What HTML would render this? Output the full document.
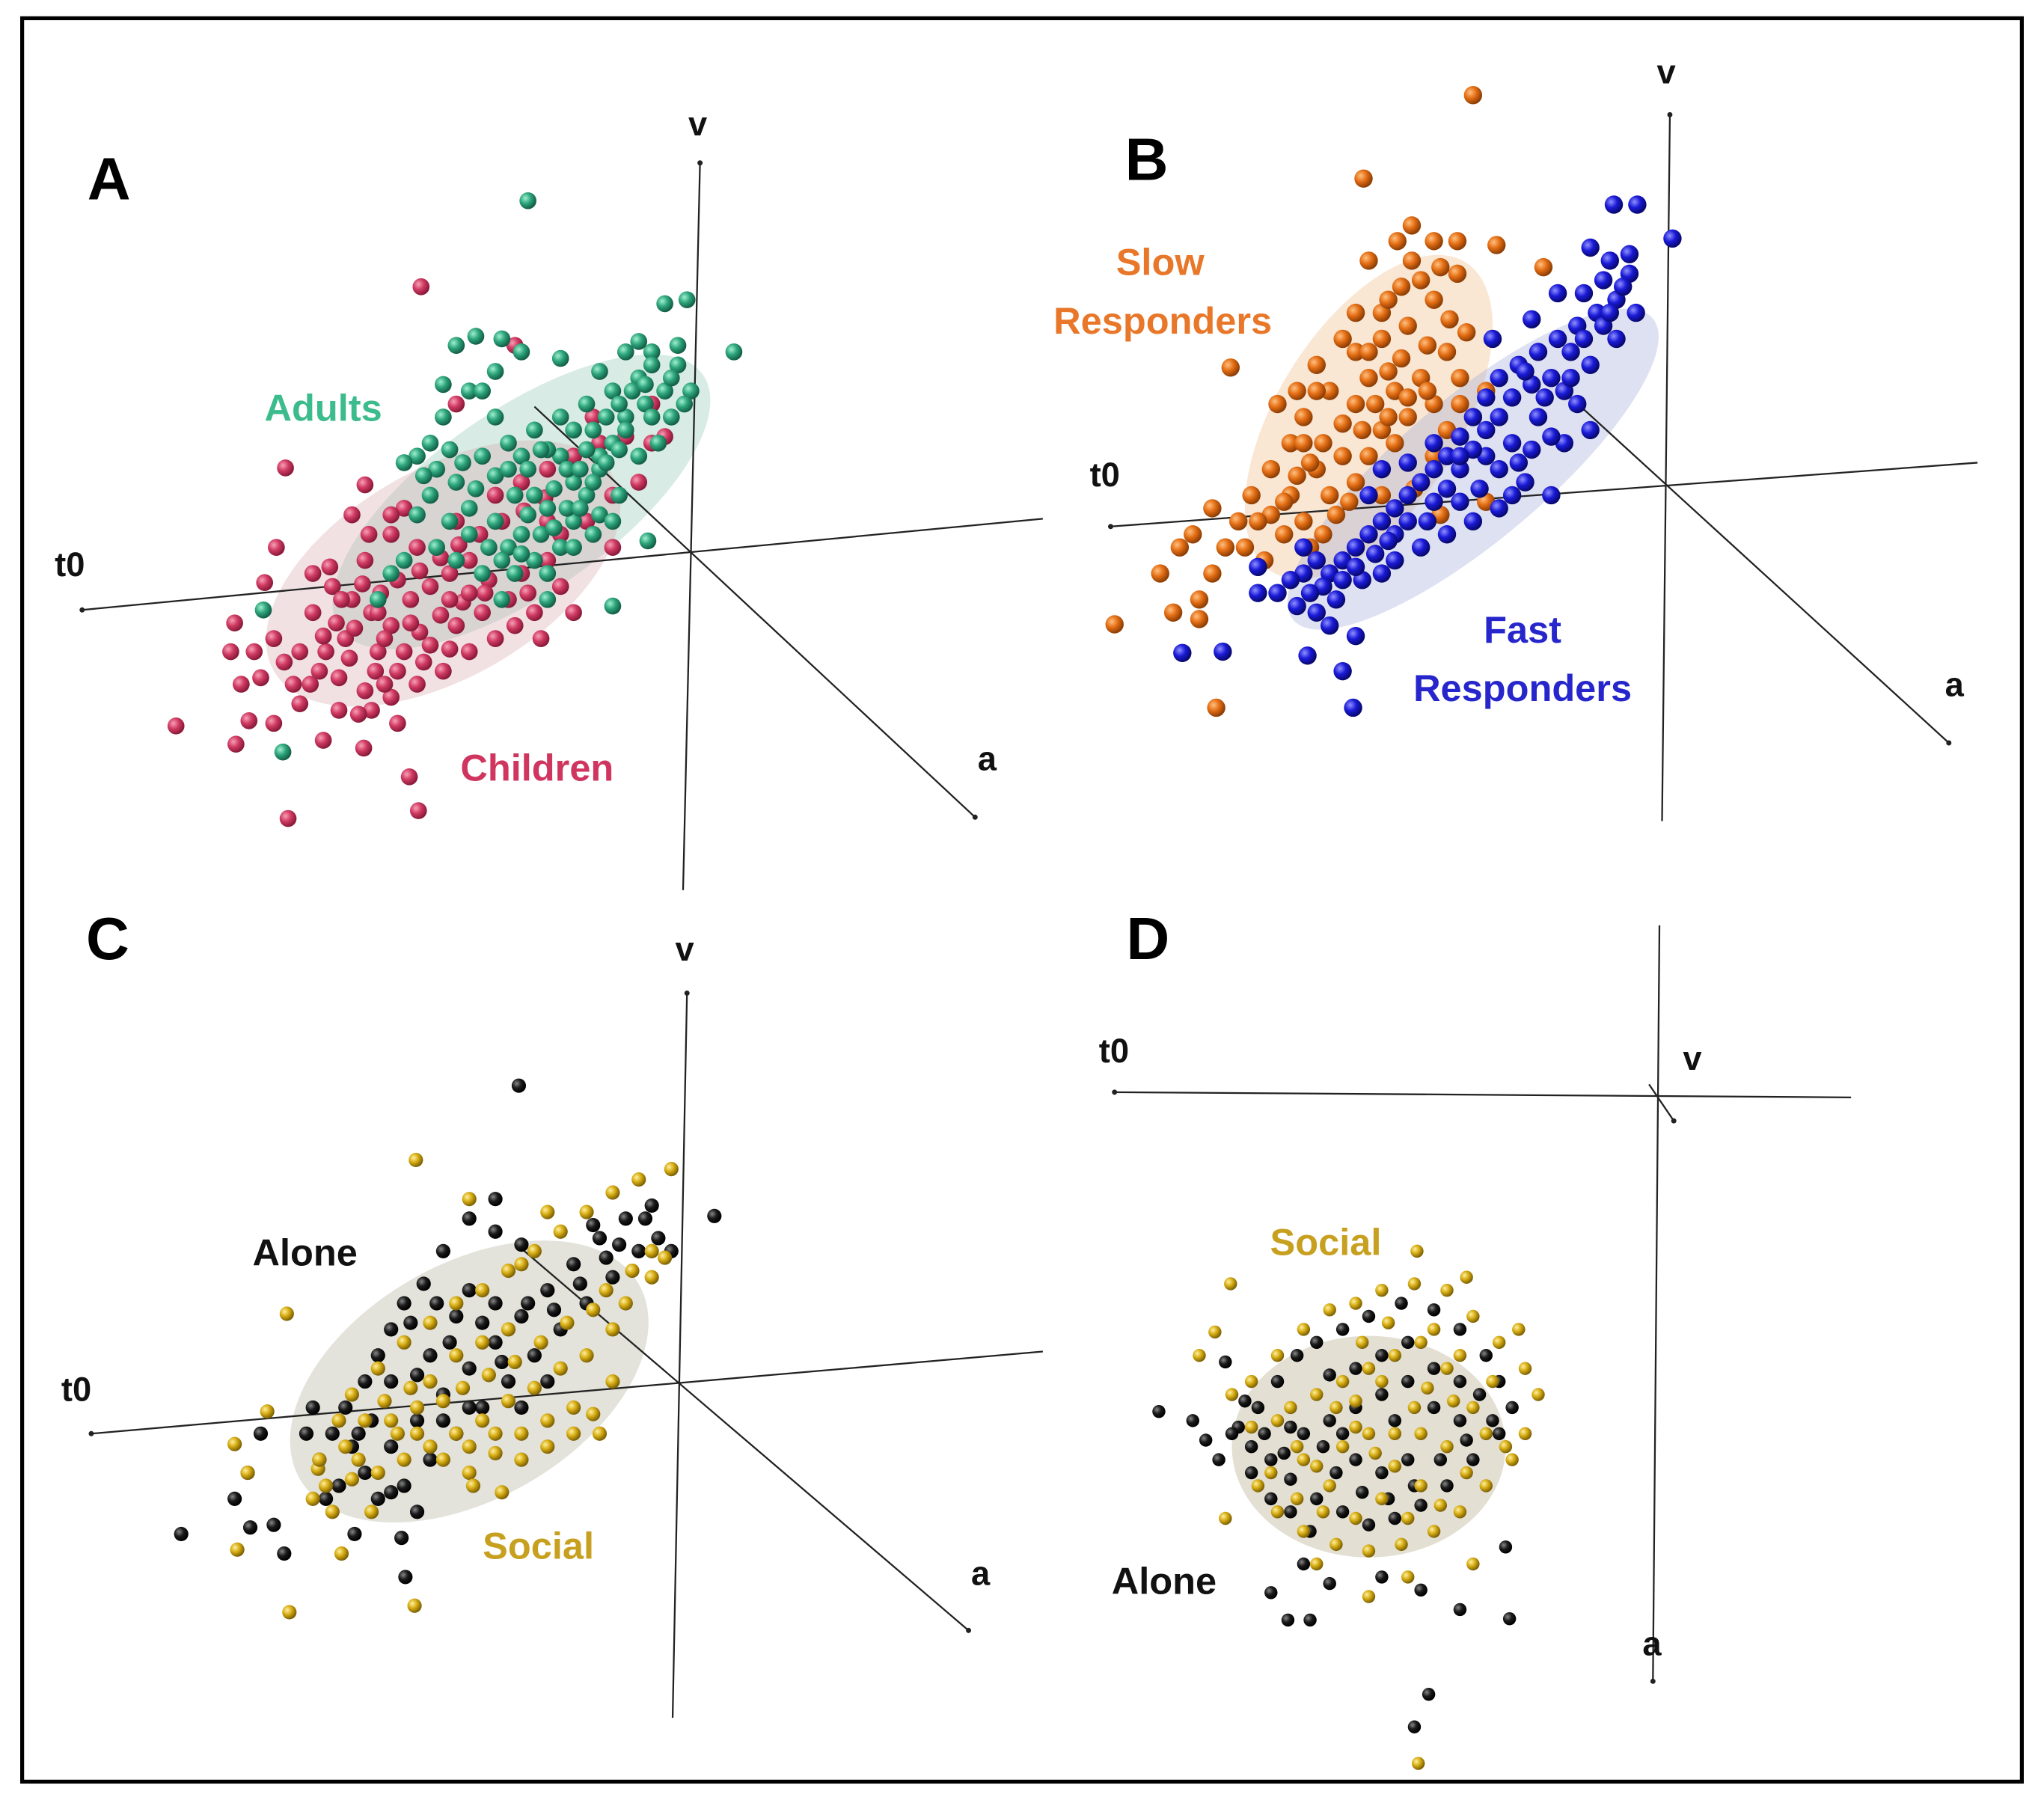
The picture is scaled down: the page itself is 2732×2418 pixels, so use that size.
<!DOCTYPE html>
<html><head><meta charset="utf-8"><style>
html,body{margin:0;padding:0;background:#fff;}
svg{display:block;}
text{font-family:"Liberation Sans","DejaVu Sans",sans-serif;font-weight:bold;}
</style></head><body>
<svg id="chart" width="2732" height="2418" viewBox="0 0 1568 1388" preserveAspectRatio="none" xmlns="http://www.w3.org/2000/svg">
<defs>
<radialGradient id="gPink" cx="35%" cy="35%" r="65%"><stop offset="0" stop-color="#f7a0b8"/><stop offset="0.5" stop-color="#d03a62"/><stop offset="1" stop-color="#8a1a3a"/></radialGradient>
<radialGradient id="gGreen" cx="35%" cy="35%" r="65%"><stop offset="0" stop-color="#9ff0d0"/><stop offset="0.5" stop-color="#2ea57c"/><stop offset="1" stop-color="#136048"/></radialGradient>
<radialGradient id="gOrange" cx="35%" cy="35%" r="65%"><stop offset="0" stop-color="#ffc080"/><stop offset="0.5" stop-color="#e46e14"/><stop offset="1" stop-color="#8e3e05"/></radialGradient>
<radialGradient id="gBlue" cx="35%" cy="35%" r="65%"><stop offset="0" stop-color="#9090ff"/><stop offset="0.5" stop-color="#1a1ad8"/><stop offset="1" stop-color="#08086e"/></radialGradient>
<radialGradient id="gBlack" cx="35%" cy="35%" r="65%"><stop offset="0" stop-color="#888"/><stop offset="0.5" stop-color="#1a1a1a"/><stop offset="1" stop-color="#000"/></radialGradient>
<radialGradient id="gGold" cx="35%" cy="35%" r="65%"><stop offset="0" stop-color="#fff0a0"/><stop offset="0.5" stop-color="#d6ac12"/><stop offset="1" stop-color="#7e6205"/></radialGradient>
</defs>
<rect x="17" y="14" width="1534" height="1353" fill="none" stroke="#000" stroke-width="3"/>

<ellipse cx="400" cy="385" rx="170" ry="70" transform="rotate(-35 400 385)" fill="#8fc8b4" opacity="0.35"/>
<ellipse cx="340" cy="440" rx="150" ry="80" transform="rotate(-30 340 440)" fill="#d8a8b0" opacity="0.35"/>
<ellipse cx="1050" cy="320" rx="140" ry="70" transform="rotate(-58 1050 320)" fill="#f0c090" opacity="0.4"/>
<ellipse cx="1130" cy="360" rx="180" ry="55" transform="rotate(-40 1130 360)" fill="#a0a8d8" opacity="0.35"/>
<ellipse cx="360" cy="1060" rx="150" ry="90" transform="rotate(-30 360 1060)" fill="#b0b098" opacity="0.35"/>
<ellipse cx="1050" cy="1110" rx="105" ry="85" fill="#b8b090" opacity="0.4"/>

<g stroke="#222" stroke-width="1.3">
<line x1="537" y1="125" x2="524" y2="683"/><line x1="63" y1="468" x2="800" y2="398"/><line x1="410" y1="312" x2="748" y2="627"/>
<line x1="1281" y1="88" x2="1275" y2="630"/><line x1="852" y1="404" x2="1517" y2="355"/><line x1="1205" y1="305" x2="1495" y2="570"/>
<line x1="527" y1="762" x2="516" y2="1318"/><line x1="70" y1="1100" x2="800" y2="1037"/><line x1="400" y1="958" x2="743" y2="1251"/>
<line x1="855" y1="838" x2="1420" y2="842"/><line x1="1273" y1="710" x2="1268" y2="1290"/><line x1="1265" y1="832" x2="1284" y2="860"/>
</g>
<g fill="#222"><circle cx="537" cy="125" r="2"/><circle cx="63" cy="468" r="2"/><circle cx="748" cy="627" r="2"/><circle cx="1281" cy="88" r="2"/><circle cx="852" cy="404" r="2"/><circle cx="1495" cy="570" r="2"/><circle cx="527" cy="762" r="2"/><circle cx="70" cy="1100" r="2"/><circle cx="743" cy="1251" r="2"/><circle cx="855" cy="838" r="2"/><circle cx="1268" cy="1290" r="2"/><circle cx="1284" cy="860" r="2"/></g>

<g id="points"></g>

<g font-size="26" fill="#111">
<text x="528" y="104">v</text>
<text x="42" y="442">t0</text>
<text x="750" y="591">a</text>
<text x="1271" y="64">v</text>
<text x="836" y="373">t0</text>
<text x="1492" y="534">a</text>
<text x="518" y="737">v</text>
<text x="47" y="1075">t0</text>
<text x="745" y="1216">a</text>
<text x="843" y="815">t0</text>
<text x="1291" y="821">v</text>
<text x="1260" y="1270">a</text>
</g>
<g font-size="46" fill="#000">
<text x="67" y="153">A</text>
<text x="863" y="138">B</text>
<text x="66" y="736">C</text>
<text x="864" y="736">D</text>
</g>
<g font-size="29" text-anchor="middle">
<text x="248" y="323" fill="#3cbb8c">Adults</text>
<text x="412" y="599" fill="#d0355f">Children</text>
<text x="890" y="211" fill="#e8772a">Slow</text>
<text x="892" y="256" fill="#e8772a">Responders</text>
<text x="1168" y="493" fill="#2626cc">Fast</text>
<text x="1168" y="538" fill="#2626cc">Responders</text>
<text x="234" y="971" fill="#111">Alone</text>
<text x="413" y="1196" fill="#c8a020">Social</text>
<text x="1017" y="963" fill="#c8a020">Social</text>
<text x="893" y="1223" fill="#111">Alone</text>
</g>
</svg>
<script>
const children = [[323,220],[219,359],[212,420],[280,372],[270,395],[300,410],[320,420],[350,400],[380,380],[400,370],[420,360],[440,350],[460,340],[480,335],[500,340],[510,335],[395,265],[350,310],[203,447],[180,478],[177,500],[195,500],[200,520],[230,500],[240,470],[255,450],[270,460],[285,470],[300,480],[315,460],[330,450],[345,440],[360,430],[375,445],[390,460],[410,470],[380,490],[360,500],[340,515],[320,525],[300,535],[280,530],[260,520],[250,500],[265,490],[290,500],[310,500],[330,495],[350,480],[370,470],[400,440],[420,430],[430,410],[450,400],[470,380],[490,370],[470,420],[440,470],[415,490],[135,557],[181,571],[210,555],[191,553],[221,628],[248,568],[279,574],[314,596],[321,622],[305,555],[240,440],[280,430],[310,390],[420,400],[455,320],[500,310],[230,540],[260,545],[285,545],[185,525],[225,525],
[262,460],[278,448],[292,455],[305,445],[322,438],[338,428],[352,418],[368,410],[385,400],[402,392],[418,382],[258,478],[272,482],[295,490],[322,485],[338,472],[355,462],[372,455],[248,488],[268,505],[288,515],[305,515],[325,508],[345,498],[245,515],[275,548],[295,525],[210,490],[218,508],[238,525],[430,450],[405,455],[395,480],[360,455],[345,460],[315,478],[290,470],[253,435],[283,410],[300,395]];
const adults = [[405,154],[527,230],[510,233],[563,270],[350,265],[365,258],[385,260],[400,270],[380,285],[360,300],[340,320],[330,340],[320,350],[310,355],[335,360],[350,370],[370,350],[390,340],[410,330],[430,320],[450,310],[470,300],[490,290],[500,270],[520,280],[530,300],[525,310],[510,300],[495,310],[480,320],[470,340],[460,360],[450,380],[440,400],[430,420],[420,440],[410,430],[400,410],[380,400],[360,390],[345,400],[335,420],[350,430],[370,440],[390,420],[420,390],[440,370],[460,350],[480,330],[500,320],[430,275],[460,285],[480,270],[500,280],[470,465],[497,415],[475,380],[420,460],[395,440],[385,460],[310,430],[290,460],[300,440],[330,380],[380,320],[400,350],[430,350],[410,380],[202,468],[217,577],[340,295],[370,300],[455,330],[490,350],[505,340],
[440,330],[450,345],[465,320],[475,310],[485,300],[495,295],[515,290],[420,345],[435,360],[445,360],[455,370],[465,355],[475,345],[425,375],[435,390],[445,390],[460,395],[405,395],[415,410],[425,405],[395,380],[380,365],[365,375],[355,355],[345,345],[405,360],[415,345],[390,360],[360,410],[375,420],[385,430],[400,425],[325,365],[320,395],[440,420],[455,410],[470,400],[515,320],[520,265],[490,262]];
const slowResp = [[1130,73],[1046,137],[1083,173],[1100,185],[1118,185],[1148,188],[1118,210],[1083,200],[1100,230],[1080,250],[1060,260],[1040,270],[1050,290],[1070,300],[1090,290],[1110,270],[1120,290],[1100,310],[1080,320],[1060,330],[1040,310],[1020,300],[1000,320],[990,340],[975,360],[960,380],[950,400],[940,420],[930,440],[920,460],[990,380],[1010,360],[1030,350],[1050,350],[1070,340],[1020,380],[1000,400],[985,410],[970,430],[955,420],[1040,370],[1060,380],[1085,375],[1110,330],[1130,320],[1140,300],[1125,255],[944,282],[1184,205],[930,390],[915,410],[905,420],[890,440],[900,470],[920,475],[855,479],[933,543],[1000,340],[980,310],[1010,280],[1030,260],[1060,240],[1040,240],[1100,350],[1140,385],[1105,395],
[1050,270],[1065,285],[1075,275],[1095,265],[1055,310],[1065,320],[1080,305],[1095,300],[1045,330],[1030,325],[1015,340],[1005,355],[995,365],[985,385],[975,395],[965,400],[1025,395],[1035,385],[1015,410],[1005,420],[1065,230],[1075,220],[1090,215],[1105,205],[1112,245],[1050,200],[1072,185],[1010,300],[995,300],[1120,310]];
const fastResp = [[1238,157],[1256,157],[1283,183],[1220,190],[1235,200],[1250,210],[1240,230],[1225,240],[1210,250],[1195,260],[1180,270],[1165,280],[1150,290],[1140,305],[1130,320],[1120,335],[1110,350],[1100,360],[1090,370],[1080,380],[1070,390],[1060,400],[1050,410],[1040,420],[1030,430],[1020,440],[1010,430],[1000,420],[1050,380],[1060,360],[1080,355],[1100,340],[1120,360],[1140,350],[1160,340],[1180,320],[1200,300],[1220,280],[1240,260],[1255,240],[1200,340],[1190,380],[1170,370],[1150,390],[1130,400],[1110,410],[1090,420],[1070,430],[1060,440],[1045,445],[1220,330],[1210,310],[965,435],[980,455],[995,465],[1010,470],[1025,460],[1020,480],[1040,488],[1030,515],[1038,543],[1003,503],[938,500],[907,501],[965,455],[1145,260],[1175,245],[1195,225],
[1215,225],[1230,215],[1245,220],[1205,270],[1215,260],[1230,250],[1190,290],[1175,295],[1160,305],[1170,285],[1185,305],[1150,320],[1140,330],[1130,345],[1120,350],[1150,360],[1165,355],[1175,345],[1190,335],[1100,385],[1110,375],[1120,385],[1135,375],[1160,380],[1080,400],[1095,400],[1070,410],[1055,425],[1040,435],[1030,445],[1015,450],[1000,440],[990,445],[1005,455],[1065,415],[1205,290],[1235,240],[1250,195]];
const cAlone = [[398,833],[548,933],[380,920],[360,935],[340,960],[325,985],[310,1000],[300,1020],[290,1040],[280,1060],[265,1080],[255,1100],[245,1120],[260,1140],[280,1130],[300,1110],[320,1090],[340,1070],[360,1050],[380,1030],[400,1010],[420,990],[440,970],[460,950],[480,935],[500,925],[490,960],[470,980],[450,1000],[430,1020],[410,1040],[390,1060],[370,1080],[350,1100],[330,1120],[310,1140],[290,1150],[350,1010],[330,1040],[360,990],[400,1080],[420,1060],[240,1080],[200,1100],[190,1130],[180,1150],[210,1170],[192,1172],[139,1177],[218,1192],[272,1177],[308,1180],[311,1210],[320,1160],[515,960],[505,950],
[315,1015],[335,1000],[345,1030],[370,1015],[385,1045],[405,1000],[425,1005],[445,985],[465,965],[380,1000],[300,1060],[320,1055],[340,1090],[360,1080],[285,1090],[270,1110],[300,1145],[275,1100],[250,1150],[235,1100],[380,945],[400,955],[455,940],[475,955],[495,935]];
const cSocial = [[319,890],[515,897],[490,905],[470,915],[450,930],[430,945],[410,960],[390,975],[370,990],[350,1000],[330,1015],[310,1030],[290,1050],[270,1070],[260,1090],[265,1110],[275,1120],[290,1130],[310,1120],[330,1110],[350,1100],[370,1090],[390,1075],[410,1065],[430,1050],[450,1040],[470,1020],[480,1000],[500,980],[510,965],[360,1130],[380,1115],[400,1100],[420,1090],[440,1080],[460,1100],[330,1060],[350,1040],[370,1030],[390,1020],[300,1090],[320,1080],[220,1008],[205,1083],[180,1108],[190,1130],[240,1150],[255,1160],[182,1189],[222,1237],[318,1232],[262,1192],[363,1140],[244,1127],
[340,1075],[355,1065],[375,1055],[395,1045],[415,1030],[435,1015],[455,1005],[465,990],[485,975],[500,960],[320,1100],[340,1120],[360,1110],[380,1100],[400,1120],[420,1110],[440,1100],[455,1085],[280,1090],[295,1075],[315,1065],[245,1120],[250,1140],[270,1135],[305,1100],[285,1160],[385,1145],[470,1060],[420,930],[360,920],[400,970]];
const dAlone = [[889,1083],[915,1090],[925,1105],[935,1120],[950,1095],[965,1080],[980,1060],[995,1040],[1010,1030],[1030,1020],[1050,1010],[1075,1000],[1100,1005],[1120,1020],[1140,1040],[1150,1060],[1160,1080],[1150,1100],[1130,1120],[1110,1140],[1090,1155],[1070,1165],[1050,1170],[1030,1160],[1010,1150],[990,1135],[975,1120],[960,1110],[1000,1100],[1020,1090],[1040,1080],[1060,1070],[1080,1060],[1100,1080],[1120,1090],[1040,1120],[1060,1130],[1080,1120],[1000,1200],[1020,1215],[1060,1210],[1090,1220],[1120,1235],[1155,1187],[1158,1242],[988,1243],[1005,1243],[975,1222],[1096,1300],[1085,1325],[940,1045],[1120,1060],
[955,1075],[970,1100],[985,1115],[945,1100],[960,1130],[975,1150],[990,1160],[1005,1175],[990,1095],[1015,1110],[1025,1130],[1045,1145],[1065,1150],[1085,1140],[1105,1120],[1125,1105],[1145,1090],[1135,1070],[1060,1040],[1040,1050],[1020,1055],[1080,1030],[1100,1050],[1070,1090],[1030,1100]];
const dSocial = [[1087,960],[944,985],[932,1022],[920,1040],[945,1070],[960,1060],[980,1040],[1000,1020],[1020,1005],[1040,1000],[1060,990],[1085,985],[1110,990],[1130,1010],[1150,1030],[1170,1050],[1180,1070],[1170,1100],[1160,1120],[1140,1140],[1120,1160],[1100,1175],[1075,1185],[1050,1190],[1025,1185],[1000,1175],[980,1160],[965,1140],[990,1080],[1010,1070],[1030,1060],[1050,1050],[1070,1040],[1090,1030],[1110,1050],[1130,1080],[1140,1100],[1000,1120],[1030,1110],[1050,1100],[1070,1100],[1090,1100],[1110,1110],[1020,1140],[1060,1150],[1090,1140],[940,1165],[1010,1200],[1050,1225],[1080,1210],[1130,1200],[1088,1353],[1165,1020],[1125,980],
[980,1090],[995,1110],[1010,1125],[1025,1080],[1040,1095],[1055,1115],[1070,1125],[1085,1080],[1095,1065],[1115,1075],[1125,1130],[1105,1155],[1080,1165],[1040,1165],[1015,1160],[995,1150],[975,1130],[960,1095],[1045,1030],[1065,1015],[1100,1020],[1120,1040],[1145,1060],[1155,1110],[1040,1075],[1060,1060]];

const xScale = d => d * 1;
const yScale = d => d * 1;
const NS = "http://www.w3.org/2000/svg";
const root = document.getElementById('points');
function drawSeries(data, fill, name, r) {
  const g = document.createElementNS(NS, 'g');
  
  
  data.forEach(p => {
    const c = document.createElementNS(NS, 'circle');
    c.setAttribute('cx', xScale(p[0]));
    c.setAttribute('cy', yScale(p[1]));
    c.setAttribute('r', r);
    c.setAttribute('fill', 'url(#' + fill + ')');
    
    
    g.appendChild(c);
  });
  root.appendChild(g);
}
drawSeries(children, 'gPink', 'children', 6.5);
drawSeries(adults, 'gGreen', 'adults', 6.5);
drawSeries(slowResp, 'gOrange', 'slow-responders', 7);
drawSeries(fastResp, 'gBlue', 'fast-responders', 7);
drawSeries(cAlone, 'gBlack', 'c-alone', 5.5);
drawSeries(cSocial, 'gGold', 'c-social', 5.5);
drawSeries(dAlone, 'gBlack', 'd-alone', 5);
drawSeries(dSocial, 'gGold', 'd-social', 5);
</script>
</body></html>
